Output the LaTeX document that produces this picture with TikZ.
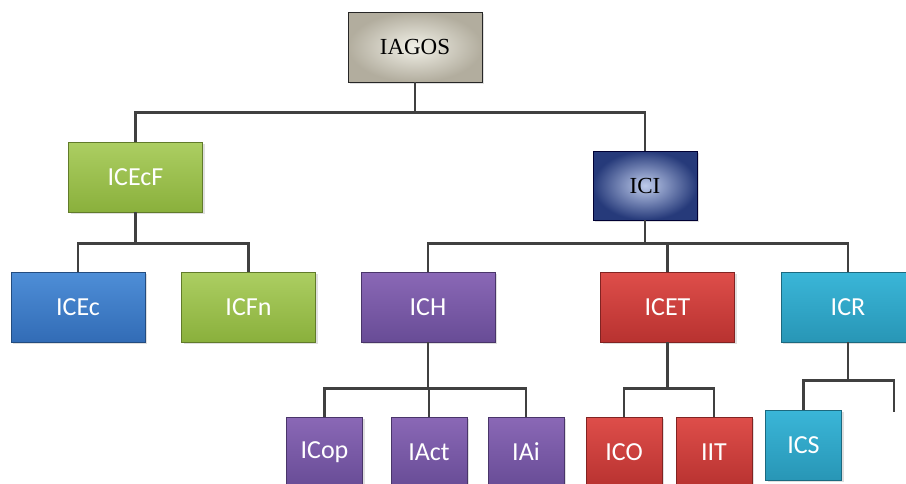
\documentclass[tikz,border=0pt]{standalone}
\usepackage{fontspec}
\setsansfont{Carlito}
\newfontfamily\boxserif{Liberation Serif}
\usetikzlibrary{shadows}

\definecolor{beigein}{RGB}{242,241,232}
\definecolor{beigeout}{RGB}{178,173,158}
\definecolor{navyin}{RGB}{190,203,235}
\definecolor{navyout}{RGB}{38,58,122}
\definecolor{greentop}{RGB}{172,206,98}
\definecolor{greenbot}{RGB}{138,176,60}
\definecolor{bluetop}{RGB}{78,142,215}
\definecolor{bluebot}{RGB}{50,108,182}
\definecolor{purpletop}{RGB}{138,104,182}
\definecolor{purplebot}{RGB}{104,76,150}
\definecolor{redtop}{RGB}{222,78,74}
\definecolor{redbot}{RGB}{184,50,48}
\definecolor{cyantop}{RGB}{58,182,216}
\definecolor{cyanbot}{RGB}{40,150,182}

\begin{document}
\begin{tikzpicture}[x=1pt,y=-1pt,
  box/.style={minimum width=134pt,minimum height=70pt,inner sep=0pt,
    font=\sffamily\fontsize{26}{26}\selectfont,text=white,line width=0.6pt,
    drop shadow={shadow xshift=2pt,shadow yshift=-2pt,opacity=0.25}},
  leaf/.style={minimum width=76pt},
  beigebox/.style={box,inner color=beigein,outer color=beigeout,
    draw=black!85,text=black,font=\boxserif\fontsize{23}{23}\selectfont},
  navybox/.style={box,minimum width=104pt,minimum height=69pt,inner color=navyin,
    outer color=navyout,draw=black!80!blue,text=black,font=\boxserif\fontsize{23}{23}\selectfont},
  greenbox/.style={box,top color=greentop,bottom color=greenbot,draw=greenbot!70!black},
  bluebox/.style={box,top color=bluetop,bottom color=bluebot,draw=bluebot!70!black},
  purplebox/.style={box,top color=purpletop,bottom color=purplebot,draw=purplebot!70!black},
  redbox/.style={box,top color=redtop,bottom color=redbot,draw=redbot!70!black},
  cyanbox/.style={box,top color=cyantop,bottom color=cyanbot,draw=cyanbot!70!black},
  link/.style={draw=black!75,line width=2.5pt}]
\path[use as bounding box,clip] (0,0) rectangle (906,483);

\node[beigebox] (IAGOS) at (415,47) {IAGOS};
\node[greenbox] (ICEcF) at (135.5,177) {ICEcF};
\node[navybox] (ICI) at (645,185.5) {ICI};
\node[bluebox] (ICEc) at (78,307) {ICEc};
\node[greenbox] (ICFn) at (248.5,307) {ICFn};
\node[purplebox] (ICH) at (428,307) {ICH};
\node[redbox] (ICET) at (667.5,307) {ICET};
\node[cyanbox] (ICR) at (848,307) {ICR};
\node[purplebox,leaf] (ICop) at (324.5,452) {ICop};
\node[purplebox,leaf] (IAct) at (429,452) {IAct};
\node[purplebox,leaf] (IAi) at (526,452) {IAi};
\node[redbox,leaf] (ICO) at (624,452) {ICO};
\node[redbox,leaf] (IIT) at (714,452) {IIT};
\node[cyanbox,leaf] (ICS) at (803.5,445) {ICS};
\coordinate (ICRend) at (894,412);

\draw[link] (IAGOS.south) -- ++(0,30) -| (ICEcF.north);
\draw[link] (IAGOS.south) -- ++(0,30) -| (ICI.north);
\draw[link] (ICEcF.south) -- ++(0,31) -| (ICEc.north);
\draw[link] (ICEcF.south) -- ++(0,31) -| (ICFn.north);
\draw[link] (ICI.south) -- ++(0,23) -| (ICH.north);
\draw[link] (ICI.south) -- ++(0,23) -| (ICET.north);
\draw[link] (ICI.south) -- ++(0,23) -| (ICR.north);
\draw[link] (ICH.south) -- ++(0,46) -| (ICop.north);
\draw[link] (ICH.south) -- ++(0,46) -| (IAct.north);
\draw[link] (ICH.south) -- ++(0,46) -| (IAi.north);
\draw[link] (ICET.south) -- ++(0,46) -| (ICO.north);
\draw[link] (ICET.south) -- ++(0,46) -| (IIT.north);
\draw[link] (ICR.south) -- ++(0,38) -| (ICS.north);
\draw[link] (ICR.south) -- ++(0,38) -| (ICRend);

\end{tikzpicture}
\end{document}
